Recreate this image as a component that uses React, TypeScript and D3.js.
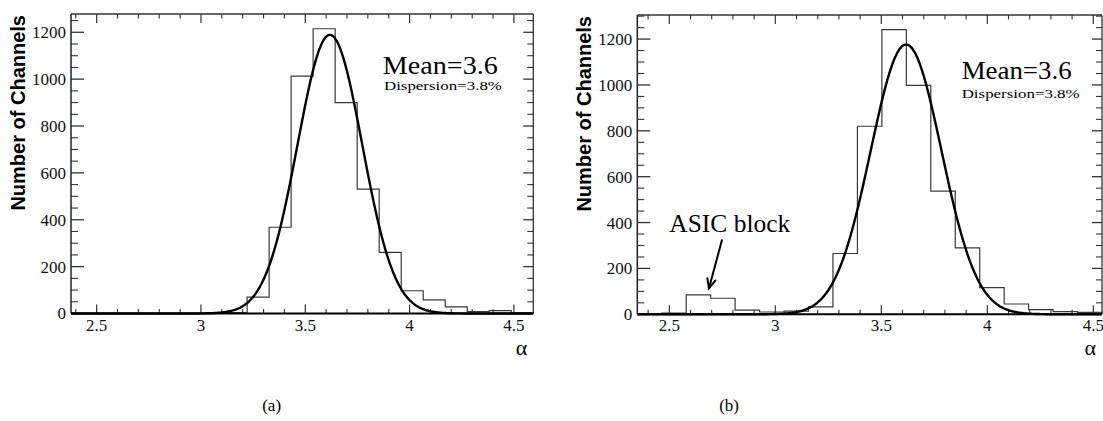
import React from 'react';
import * as d3 from 'd3';

// alpha histograms, bins spread evenly over the x range of each panel
const xRangeA = [2.377, 4.593];
const xRangeB = [2.349, 4.541];
const countsA = [0, 0, 0, 0, 0, 0, 2, 4, 70, 368, 1013, 1215, 900, 531, 261, 97, 58, 28, 8, 12, 3];
const countsB = [0, 5, 85, 70, 18, 10, 14, 32, 265, 820, 1241, 998, 537, 290, 116, 45, 20, 12, 8];

// gaussian fit results: [amplitude, mean, sigma]
const fitA = [1189, 3.618, 0.155];
const fitB = [1176, 3.617, 0.167];

const yMaxA = 1278;
const yMaxB = 1305;

const xTickValues = [2.5, 3, 3.5, 4, 4.5];
const xTickLabels = ['2.5', '3', '3.5', '4', '4.5'];
const yTickValues = [0, 200, 400, 600, 800, 1000, 1200];
const yTickLabels = ['0', '200', '400', '600', '800', '1000', '1200'];

const meanText = 'Mean=3.6';
const dispText = 'Dispersion=3.8%';
const captions = ['(a)', '(b)'];

const serif = '"Liberation Serif", "Times New Roman", serif';
const sans = '"Liberation Sans", Arial, sans-serif';

const Panel = ({ frame, xRange, yMax, counts, fit, meanAt, dispAt, meanW, dispW, caption, asic }) => {
  const { left, right, top, bottom } = frame;
  const x = d3.scaleLinear().domain(xRange).range([left, right]);
  const y = d3.scaleLinear().domain([0, yMax]).range([bottom, top]);

  // histogram outline
  const bw = (xRange[1] - xRange[0]) / counts.length;
  let hist = `M${x(xRange[0])},${y(0)}`;
  counts.forEach((c, i) => {
    const x0 = xRange[0] + i * bw;
    hist += `L${x(x0)},${y(c)}L${x(x0 + bw)},${y(c)}`;
  });
  hist += `L${x(xRange[1])},${y(0)}`;

  // fit curve
  const [amp, mu, sig] = fit;
  const xs = d3.range(xRange[0], xRange[1], 0.004);
  const fitLine = d3.line()
    .x(d => x(d))
    .y(d => y(amp * Math.exp(-0.5 * ((d - mu) / sig) ** 2)));

  const minorX = d3.range(Math.ceil(xRange[0] * 10), Math.floor(xRange[1] * 10) + 1)
    .map(v => v / 10)
    .filter(v => !xTickValues.some(m => Math.abs(m - v) < 1e-6));
  const minorY = d3.range(50, yMax, 50).filter(v => v % 200 !== 0);

  const tickColor = '#333';

  let arrow = null;
  if (asic) {
    const tx = x(asic.tip[0]), ty = y(asic.tip[1]);
    const sx = x(asic.tail[0]), sy = y(asic.tail[1]);
    const ang = Math.atan2(ty - sy, tx - sx);
    const hl = 11, ha = 0.42;
    const b1 = [tx - hl * Math.cos(ang - ha), ty - hl * Math.sin(ang - ha)];
    const b2 = [tx - hl * Math.cos(ang + ha), ty - hl * Math.sin(ang + ha)];
    arrow = (
      <g>
        <text x={x(asic.textAt[0])} y={y(asic.textAt[1])} fontFamily={serif} fontSize={25}
          textLength={121} lengthAdjust="spacingAndGlyphs" fill="#000">{asic.label}</text>
        <line x1={sx} y1={sy} x2={tx} y2={ty} stroke="#000" strokeWidth={2} />
        <path d={`M${b1[0]},${b1[1]}L${tx},${ty}L${b2[0]},${b2[1]}`} fill="none" stroke="#000" strokeWidth={2} />
      </g>
    );
  }

  return (
    <g>
      {/* frame */}
      <line x1={left} x2={right} y1={top} y2={top} stroke="#333" strokeWidth={1.3} />
      <line x1={right} x2={right} y1={top} y2={bottom} stroke="#333" strokeWidth={1.3} />
      <line x1={left} x2={left} y1={top} y2={bottom} stroke="#222" strokeWidth={1.5} />

      {/* x ticks bottom and top */}
      {xTickValues.map(v => (
        <g key={'xm' + v}>
          <line x1={x(v)} x2={x(v)} y1={bottom} y2={bottom - 9} stroke={tickColor} strokeWidth={1.2} />
          <line x1={x(v)} x2={x(v)} y1={top} y2={top + 9} stroke={tickColor} strokeWidth={1.2} />
        </g>
      ))}
      {minorX.map(v => (
        <g key={'xn' + v}>
          <line x1={x(v)} x2={x(v)} y1={bottom} y2={bottom - 4.5} stroke={tickColor} strokeWidth={1.1} />
          <line x1={x(v)} x2={x(v)} y1={top} y2={top + 4.5} stroke={tickColor} strokeWidth={1.1} />
        </g>
      ))}

      {/* y ticks left and right */}
      {yTickValues.map(v => (
        <g key={'ym' + v}>
          <line x1={left} x2={left + 13} y1={y(v)} y2={y(v)} stroke={tickColor} strokeWidth={1.3} />
          <line x1={right} x2={right - 10} y1={y(v)} y2={y(v)} stroke={tickColor} strokeWidth={1.3} />
        </g>
      ))}
      {minorY.map(v => (
        <g key={'yn' + v}>
          <line x1={left} x2={left + 7} y1={y(v)} y2={y(v)} stroke={tickColor} strokeWidth={1.1} />
          <line x1={right} x2={right - 6} y1={y(v)} y2={y(v)} stroke={tickColor} strokeWidth={1.1} />
        </g>
      ))}

      {/* histogram and fit */}
      <path d={hist} fill="none" stroke="#3a3a3a" strokeWidth={1.2} />
      <path d={fitLine(xs)} fill="none" stroke="#000" strokeWidth={2.4} />

      {/* bottom axis line */}
      <line x1={left} x2={right} y1={bottom} y2={bottom} stroke="#000" strokeWidth={2} />

      {/* tick labels */}
      {xTickValues.map((v, i) => (
        <text key={'xl' + v} x={x(v)} y={bottom + 17} textAnchor="middle" fontFamily={serif} fontSize={17} fill="#111">
          {xTickLabels[i]}
        </text>
      ))}
      {yTickValues.map((v, i) => (
        <text key={'yl' + v} x={left - 5} y={y(v)} dy="0.35em" textAnchor="end" fontFamily={serif} fontSize={17} fill="#111">
          {yTickLabels[i]}
        </text>
      ))}

      {/* axis titles */}
      <text transform={`translate(${left - 46},${top + 1}) rotate(-90)`} textAnchor="end" fontFamily={sans}
        fontWeight="bold" fontSize={20} fill="#000">Number of Channels</text>
      <text x={right - 6} y={bottom + 41} textAnchor="end" fontFamily={serif} fontSize={22} fill="#000">α</text>

      {/* fit summary */}
      <text x={x(meanAt[0])} y={y(meanAt[1])} fontFamily={serif} fontSize={25} textLength={meanW}
        lengthAdjust="spacingAndGlyphs" fill="#000">{meanText}</text>
      <text x={x(dispAt[0])} y={y(dispAt[1])} fontFamily={serif} fontSize={12.5} textLength={dispW}
        lengthAdjust="spacingAndGlyphs" fill="#000">{dispText}</text>

      {arrow}

      <text x={(left + right) / 2 + caption.dx} y={411} textAnchor="middle" fontFamily={serif} fontSize={17} fill="#000">
        {caption.label}
      </text>
    </g>
  );
};

export default function App() {
  return (
    <div style={{ position: 'absolute', left: 0, top: 0 }}>
      <svg width={1103} height={421} style={{ display: 'block', background: '#fff' }}>
        <Panel
          frame={{ left: 71, right: 533.3, top: 14, bottom: 313.5 }}
          xRange={xRangeA}
          yMax={yMaxA}
          counts={countsA}
          fit={fitA}
          meanAt={[3.872, 1023]}
          dispAt={[3.877, 955]}
          meanW={115}
          dispW={118}
          caption={{ label: captions[0], dx: -30.5 }}
        />
        <Panel
          frame={{ left: 637.3, right: 1102, top: 15, bottom: 314.3 }}
          xRange={xRangeB}
          yMax={yMaxB}
          counts={countsB}
          fit={fitB}
          meanAt={[3.879, 1026]}
          dispAt={[3.879, 945]}
          meanW={110}
          dispW={118}
          caption={{ label: captions[1], dx: -140.6 }}
          asic={{ label: 'ASIC block', textAt: [2.5, 360], tail: [2.749, 326], tip: [2.687, 113] }}
        />
      </svg>
    </div>
  );
}
